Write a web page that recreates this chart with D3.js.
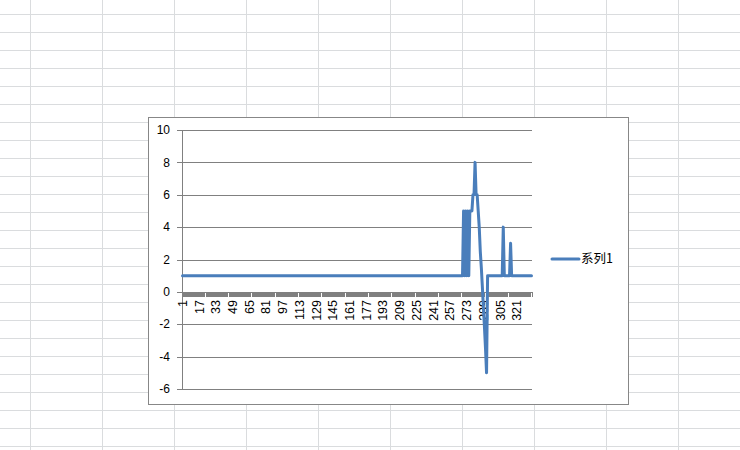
<!DOCTYPE html>
<html>
<head>
<meta charset="utf-8">
<script src="https://cdn.jsdelivr.net/npm/d3@7"></script>
<style>
  body { margin: 0; background: #fff; }
  svg { display: block; }
</style>
</head>
<body>
<svg width="740" height="450"></svg>
<script>
// series values, one per row of the sheet (335 rows)
const seriesName = '系列1'
const baseRows = 269          // rows 1..269 all hold 1
const spikeValues = [
  5, 1, 5, 1, 5, 1, 5, 5, 5,  // rows 270-278
  6, 6, 8, 6, 6,              // rows 279-283
  5, 4, 2.5, 1.5, 0.3, -1, -2.2, -3.5, -5,   // rows 284-292
  1, 1, 1, 1, 1, 1, 1, 1, 1, 1, 1, 1, 1, 1, 1, // rows 293-307
  4,                          // row 308
  1, 1, 1, 1, 1, 1,           // rows 309-314
  3                           // row 315
]
const tailRows = 20           // rows 316..335 hold 1
const yTicks = [-6, -4, -2, 0, 2, 4, 6, 8, 10]

let values = []
for (let i = 0; i < baseRows; i++) values.push(1)
values = values.concat(spikeValues)
for (let i = 0; i < tailRows; i++) values.push(1)
const data = values.map((v, i) => ({ row: i + 1, value: v }))
const N = data.length
const xLabels = data.filter(d => (d.row - 1) % 16 === 0).map(d => d.row)

const svg = d3.select('svg')

// the spreadsheet cells behind the chart
const sheet = svg.append('g')
sheet.selectAll('line.col')
  .data(d3.range(30, 740, 72))
  .enter().append('line')
  .attr('x1', d => d + 0.5).attr('x2', d => d + 0.5)
  .attr('y1', 0).attr('y2', 450)
  .attr('stroke', '#dadcde')
sheet.selectAll('line.row')
  .data(d3.range(14, 450, 18))
  .enter().append('line')
  .attr('y1', d => d + 0.5).attr('y2', d => d + 0.5)
  .attr('x1', 0).attr('x2', 740)
  .attr('stroke', '#dadcde')

// chart box
svg.append('rect')
  .attr('x', 148.5).attr('y', 117.5)
  .attr('width', 480).attr('height', 287)
  .attr('fill', '#fff')
  .attr('stroke', '#878787')

const plot = { left: 182, right: 532, top: 130, bottom: 389 }

const x = d3.scaleLinear()
  .domain([0.5, N + 0.5])
  .range([plot.left, plot.right])
const y = d3.scaleLinear()
  .domain([-6, 10])
  .range([plot.bottom, plot.top])

// gridlines + y ticks
svg.append('g')
  .selectAll('line')
  .data(yTicks)
  .enter().append('line')
  .attr('x1', plot.left - 5).attr('x2', plot.right)
  .attr('y1', d => Math.round(y(d)) + 0.5)
  .attr('y2', d => Math.round(y(d)) + 0.5)
  .attr('stroke', '#808080')

svg.append('line')
  .attr('x1', plot.left + 0.5).attr('x2', plot.left + 0.5)
  .attr('y1', plot.top).attr('y2', plot.bottom + 1)
  .attr('stroke', '#808080')

svg.append('g')
  .selectAll('text')
  .data(yTicks)
  .enter().append('text')
  .attr('x', 170)
  .attr('y', d => y(d))
  .attr('dy', '0.35em')
  .attr('text-anchor', 'end')
  .attr('font-family', 'Liberation Sans, Arial, sans-serif')
  .attr('font-size', 12)
  .attr('fill', '#000')
  .text(d => d)

// category axis at zero: a tick mark for every row
const y0 = Math.round(y(0))
svg.append('g')
  .attr('shape-rendering', 'crispEdges')
  .selectAll('line')
  .data(d3.range(0, N + 1))
  .enter().append('line')
  .attr('x1', d => x(d + 0.5)).attr('x2', d => x(d + 0.5))
  .attr('y1', y0).attr('y2', y0 + 5)
  .attr('stroke', '#808080')

svg.append('g')
  .selectAll('text')
  .data(xLabels)
  .enter().append('text')
  .attr('transform', d => `translate(${x(d)},${y0 + 8}) rotate(-90)`)
  .attr('dy', '0.35em')
  .attr('text-anchor', 'end')
  .attr('font-family', 'Liberation Sans, Arial, sans-serif')
  .attr('font-size', 12.5)
  .attr('fill', '#000')
  .text(d => d)

// the series
const line = d3.line()
  .x(d => x(d.row))
  .y(d => y(d.value))

svg.append('path')
  .datum(data)
  .attr('d', line)
  .attr('fill', 'none')
  .attr('stroke', '#4a7ebb')
  .attr('stroke-width', 3)
  .attr('stroke-linejoin', 'round')
  .attr('stroke-linecap', 'round')

// legend
const legend = svg.append('g').attr('transform', 'translate(552,259)')
legend.append('line')
  .attr('x1', 0).attr('x2', 27)
  .attr('stroke', '#4a7ebb')
  .attr('stroke-width', 3)
  .attr('stroke-linecap', 'round')
legend.append('text')
  .attr('x', 29)
  .attr('dy', '0.35em')
  .attr('font-family', 'Noto Sans CJK SC, sans-serif')
  .attr('font-size', 12.5)
  .attr('fill', '#000')
  .text(seriesName)
</script>
</body>
</html>
